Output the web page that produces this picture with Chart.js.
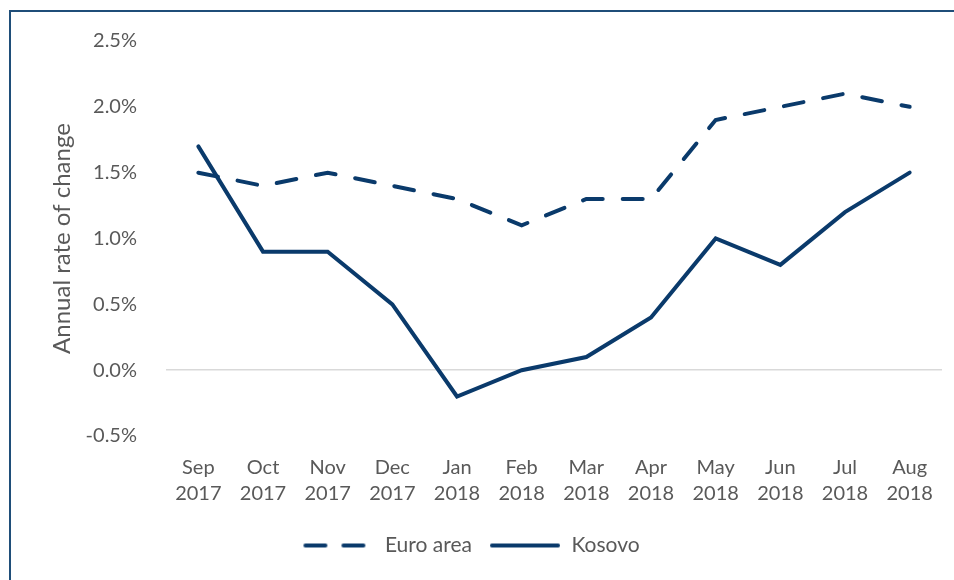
<!DOCTYPE html>
<html>
<head>
<meta charset="utf-8">
<script src="https://cdn.jsdelivr.net/npm/chart.js@4/dist/chart.umd.min.js"></script>
<style>
  html, body { margin: 0; padding: 0; background: #fff; overflow: hidden; }
  #wrap { position: relative; width: 954px; height: 580px; }
  #frame {
    position: absolute; left: 9px; top: 10px; width: 1000px; height: 620px;
    border-left: 2px solid #1f4e79; border-top: 2px solid #1f4e79;
    pointer-events: none;
  }
  canvas { position: absolute; left: 0; top: 0; }
</style>
</head>
<body>
<div id="wrap">
  <canvas id="chart" width="954" height="580"></canvas>
  <div id="frame"></div>
</div>
<script>
// Annual rate of change: Euro area vs Kosovo, Sep 2017 - Aug 2018
const MONTHS = [
  ['Sep', '2017'], ['Oct', '2017'], ['Nov', '2017'], ['Dec', '2017'],
  ['Jan', '2018'], ['Feb', '2018'], ['Mar', '2018'], ['Apr', '2018'],
  ['May', '2018'], ['Jun', '2018'], ['Jul', '2018'], ['Aug', '2018'],
];
const EURO_AREA = [1.5, 1.4, 1.5, 1.4, 1.3, 1.1, 1.3, 1.3, 1.9, 2.0, 2.1, 2.0];
const KOSOVO = [1.7, 0.9, 0.9, 0.5, -0.2, 0.0, 0.1, 0.4, 1.0, 0.8, 1.2, 1.5];
const Y_TICKS = [-0.5, 0, 0.5, 1.0, 1.5, 2.0, 2.5];

const NAVY = '#0a3a6b';
const TEXT = '#595959';
const FONT = 'Lato, "Liberation Sans", sans-serif';

// small legend swatches, so the dashed series shows as dashed
function legendSwatch(dash) {
  const c = document.createElement('canvas');
  c.width = 72;
  c.height = 8;
  const ctx = c.getContext('2d');
  ctx.strokeStyle = NAVY;
  ctx.lineWidth = 4;
  ctx.lineCap = 'round';
  ctx.setLineDash(dash);
  ctx.beginPath();
  ctx.moveTo(3, 4);
  ctx.lineTo(69, 4);
  ctx.stroke();
  return c;
}

const dashedSwatch = legendSwatch([20, 18]);
const solidSwatch = legendSwatch([]);

new Chart(document.getElementById('chart').getContext('2d'), {
  type: 'line',
  data: {
    labels: MONTHS,
    datasets: [
      {
        label: 'Euro area',
        data: EURO_AREA,
        borderColor: NAVY,
        backgroundColor: NAVY,
        borderWidth: 4,
        borderDash: [20, 20],
        borderCapStyle: 'round',
        tension: 0,
        pointRadius: 0,
        pointStyle: dashedSwatch,
      },
      {
        label: 'Kosovo',
        data: KOSOVO,
        borderColor: NAVY,
        backgroundColor: NAVY,
        borderWidth: 4,
        borderCapStyle: 'round',
        tension: 0,
        pointRadius: 0,
        pointStyle: solidSwatch,
      },
    ],
  },
  options: {
    responsive: false,
    animation: false,
    layout: { padding: { top: 26, right: 12, bottom: 14, left: 0 } },
    scales: {
      x: {
        offset: true,
        grid: { display: false },
        border: { display: false },
        ticks: {
          color: TEXT,
          font: { family: FONT, size: 20, lineHeight: 1.3 },
          padding: 11,
          maxRotation: 0,
        },
      },
      y: {
        min: -0.5,
        max: 2.5,
        afterFit: (scale) => { scale.width = 166; },
        afterBuildTicks: (scale) => { scale.ticks = Y_TICKS.map((v) => ({ value: v })); },
        border: { display: false },
        grid: {
          drawTicks: false,
          lineWidth: 1.5,
          color: (ctx) => (ctx.tick && ctx.tick.value === 0 ? '#d9d9d9' : 'rgba(0,0,0,0)'),
        },
        ticks: {
          color: TEXT,
          font: { family: FONT, size: 20 },
          padding: 29,
          callback: (v) => `${Number(v).toFixed(1)}%`,
        },
        title: {
          display: true,
          text: 'Annual rate of change',
          color: TEXT,
          font: { family: FONT, size: 24 },
          padding: { top: 48, bottom: 0 },
        },
      },
    },
    plugins: {
      legend: {
        position: 'bottom',
        labels: {
          usePointStyle: true,
          pointStyleWidth: 72,
          boxHeight: 8,
          padding: 17,
          color: TEXT,
          font: { family: FONT, size: 21 },
        },
      },
      tooltip: { enabled: false },
    },
  },
});
</script>
</body>
</html>
